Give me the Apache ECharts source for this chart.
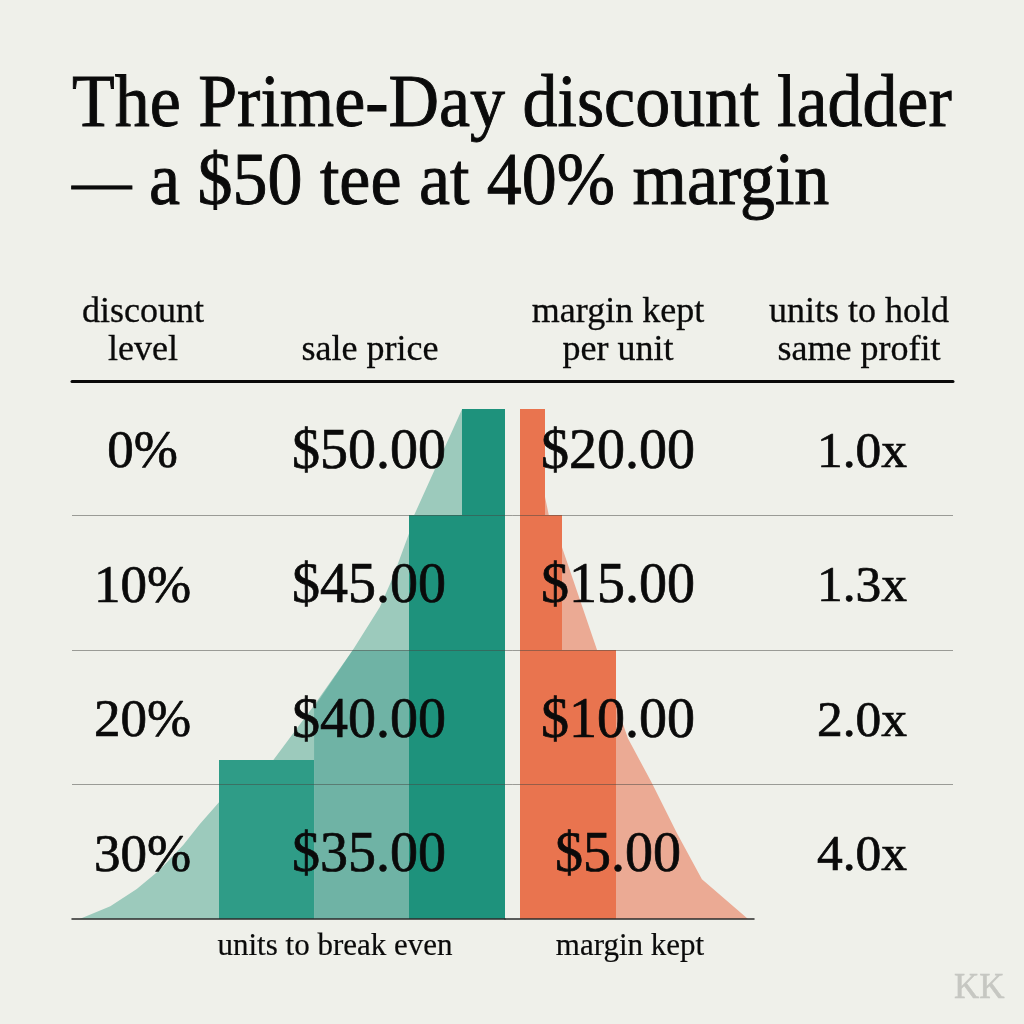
<!DOCTYPE html>
<html><head><meta charset="utf-8">
<style>html,body{margin:0;padding:0;background:#EFF0EA}#c{width:1024px;height:1024px}</style>
<script src="https://cdn.jsdelivr.net/npm/echarts@6/dist/echarts.min.js"></script>
</head><body><div id="c"></div>
<script>
// ---- data ----
const titleLine1 = 'The Prime-Day discount ladder';
const titleDash = '—';
const titleLine2 = ' a $50 tee at 40% margin';
const discountLevels = ['0%', '10%', '20%', '30%'];
const salePrices = ['$50.00', '$45.00', '$40.00', '$35.00'];
const marginKept = ['$20.00', '$15.00', '$10.00', '$5.00'];
const unitsToHold = ['1.0x', '1.3x', '2.0x', '4.0x'];
const headers = ['discount\nlevel', '\nsale price', 'margin kept\nper unit', 'units to hold\nsame profit'];
const axisCaptions = ['units to break even', 'margin kept'];

// stepped bars: inner edge, outer edge, height share %
const unitBarFrom = [0, 0.60, 2.67];
const unitBarTo = [0.60, 1.34, 4.0];
const unitBarHeight = [100, 79.2, 31.2];
const marginBarFrom = [0, 5.2, 8.75];
const marginBarTo = [5.2, 8.75, 20];
const marginBarHeight = [100, 79.2, 52.7];
// the middle step is cut by the silhouette
const unitMidStepX = [1.34, 2.13, 2.67];
const unitMidStepY = [52.7, 52.7, 41.5];

// silhouettes behind the bars
const unitCurveX = [0, 0.60, 1.27, 1.34, 1.57, 1.75, 2.13, 2.69, 3.24, 4.0, 4.27, 4.5, 4.83, 5.15, 5.52, 5.95];
const unitCurveY = [100, 100, 79.2, 75.7, 66.9, 61.2, 52.7, 41.5, 31.2, 22.9, 18.6, 14.5, 9.6, 5.9, 2.5, 0];
const marginCurveX = [0, 5.2, 6.0, 8.75, 16.0, 22.5, 27.5, 32.7, 37.9, 47.5];
const marginCurveY = [100, 82.8, 79.2, 72.9, 52.9, 35.4, 26.6, 16.8, 7.8, 0];

// ---- styling / layout ----
const INK = '#0a0a0a';
const SERIF = '"Liberation Serif", serif';
const columnCenters = [70.5, 297, 546, 790];
const columnFont = [53, 56, 56, 51.5];
const unitBarColors = ['#1E927C', '#1E927C', '#2F9C87'];
const marginBarColors = ['#E9744F', '#E9744F', '#E9744F'];

function zip(xs, ys) { return xs.map((x, i) => [x, ys[i]]); }
function barSeries(axisIndex, from, to, h, colors) {
  return {
    type: 'custom', xAxisIndex: axisIndex, yAxisIndex: axisIndex, z: 3, silent: true,
    data: from.map((f, i) => [f, to[i], h[i], i]),
    encode: { x: [0, 1], y: 2 },
    renderItem(params, api) {
      const a = api.coord([api.value(0), api.value(2)]);
      const b = api.coord([api.value(1), 0]);
      const x0 = Math.round(Math.min(a[0], b[0])), x1 = Math.round(Math.max(a[0], b[0]));
      return {
        type: 'rect',
        shape: { x: x0, y: Math.round(a[1]), width: x1 - x0, height: Math.round(b[1]) - Math.round(a[1]) },
        style: { fill: colors[api.value(3)] }
      };
    }
  };
}
function areaSeries(axisIndex, xs, ys, color, z) {
  return {
    type: 'line', xAxisIndex: axisIndex, yAxisIndex: axisIndex, z, silent: true,
    data: zip(xs, ys), showSymbol: false, symbol: 'none', smooth: false,
    lineStyle: { width: 0 }, areaStyle: { color, opacity: 1, origin: 'start' }
  };
}
function columnSeries(col, texts) {
  return {
    type: 'scatter', xAxisIndex: 2, yAxisIndex: 2, z: 10, silent: true, symbolSize: 1,
    itemStyle: { color: 'rgba(0,0,0,0)', opacity: 1 },
    data: texts.map((t, i) => ({ value: [columnCenters[col], i + 0.5], name: t })),
    label: {
      show: true, position: 'inside', formatter: p => p.name, opacity: 1,
      fontFamily: SERIF, fontSize: columnFont[col], color: INK, align: 'center', verticalAlign: 'middle',
      offset: [0, 5], textBorderColor: INK, textBorderWidth: 0.7
    }
  };
}
const headerX = [143, 370, 618, 859];
const chart = echarts.init(document.getElementById('c'), null, { renderer: 'canvas' });
chart.setOption({
  animation: false,
  backgroundColor: '#EFF0EA',
  graphic: [
    { type: 'text', x: 72, y: 70, scaleX: 0.945, z: 20,
      style: { text: titleLine1, font: '74px ' + SERIF, fill: INK, stroke: INK, lineWidth: 0.9 } },
    { type: 'text', x: 72, y: 148, scaleX: 0.945, z: 20,
      style: { text: '{d|' + titleDash + '}' + titleLine2, font: '74px ' + SERIF, fill: INK, stroke: INK, lineWidth: 0.9,
        rich: { d: { font: '63px ' + SERIF, fill: INK, stroke: INK, lineWidth: 0.9 } } } }
  ],
  title: [
    ...headers.map((h, i) => ({
      text: h, left: headerX[i], top: 294, padding: 0, textAlign: 'center',
      textStyle: { fontFamily: SERIF, fontSize: 36, lineHeight: 38, fontWeight: 'normal', color: INK, align: 'center',
        textBorderColor: INK, textBorderWidth: 0.3 }
    })),
    { text: axisCaptions[0], left: 335, top: 931, padding: 0, textAlign: 'center',
      textStyle: { fontFamily: SERIF, fontSize: 31, fontWeight: 'normal', color: INK, textBorderColor: INK, textBorderWidth: 0.2 } },
    { text: axisCaptions[1], left: 630, top: 931, padding: 0, textAlign: 'center',
      textStyle: { fontFamily: SERIF, fontSize: 31, fontWeight: 'normal', color: INK, textBorderColor: INK, textBorderWidth: 0.2 } },
    { text: 'KK', left: 954, top: 971, padding: 0,
      textStyle: { fontFamily: SERIF, fontSize: 35, fontWeight: 'normal', color: '#C6C7C2', textBorderColor: '#C6C7C2', textBorderWidth: 0.5 } }
  ],
  grid: [
    { left: 72, width: 433, top: 409, height: 510 },
    { left: 505, width: 249, top: 409, height: 510 },
    { left: 72, width: 881, top: 381, height: 538 }
  ],
  xAxis: [
    { type: 'value', gridIndex: 0, min: 0, max: 6.056, inverse: true, z: 4,
      axisLine: { show: true, onZero: false, lineStyle: { color: '#2b2b2b', width: 1.5 } },
      axisTick: { show: false }, axisLabel: { show: false }, splitLine: { show: false } },
    { type: 'value', gridIndex: 1, min: -3.125, max: 48.75, z: 4,
      axisLine: { show: true, onZero: false, lineStyle: { color: '#2b2b2b', width: 1.5 } },
      axisTick: { show: false }, axisLabel: { show: false }, splitLine: { show: false } },
    { type: 'value', gridIndex: 2, min: 0, max: 881, position: 'top',
      axisLine: { show: true, onZero: false, lineStyle: { color: '#0a0a0a', width: 3 } },
      axisTick: { show: false }, axisLabel: { show: false }, splitLine: { show: false } }
  ],
  yAxis: [
    { type: 'value', gridIndex: 0, min: 0, max: 100, show: false },
    { type: 'value', gridIndex: 1, min: 0, max: 100, show: false },
    { type: 'value', gridIndex: 2, min: 0, max: 4, interval: 1, inverse: true, z: 5,
      axisLine: { show: false }, axisTick: { show: false }, axisLabel: { show: false },
      splitLine: { show: true, showMinLine: false, showMaxLine: false,
        lineStyle: { color: 'rgba(70,70,65,0.5)', width: 1 } } }
  ],
  series: [
    areaSeries(0, unitCurveX, unitCurveY, '#9CCABC', 2),
    areaSeries(1, marginCurveX, marginCurveY, '#EBAA94', 2),
    areaSeries(0, unitMidStepX, unitMidStepY, '#6FB3A5', 3),
    barSeries(0, unitBarFrom, unitBarTo, unitBarHeight, unitBarColors),
    barSeries(1, marginBarFrom, marginBarTo, marginBarHeight, marginBarColors),
    columnSeries(0, discountLevels),
    columnSeries(1, salePrices),
    columnSeries(2, marginKept),
    columnSeries(3, unitsToHold)
  ]
});
</script></body></html>
